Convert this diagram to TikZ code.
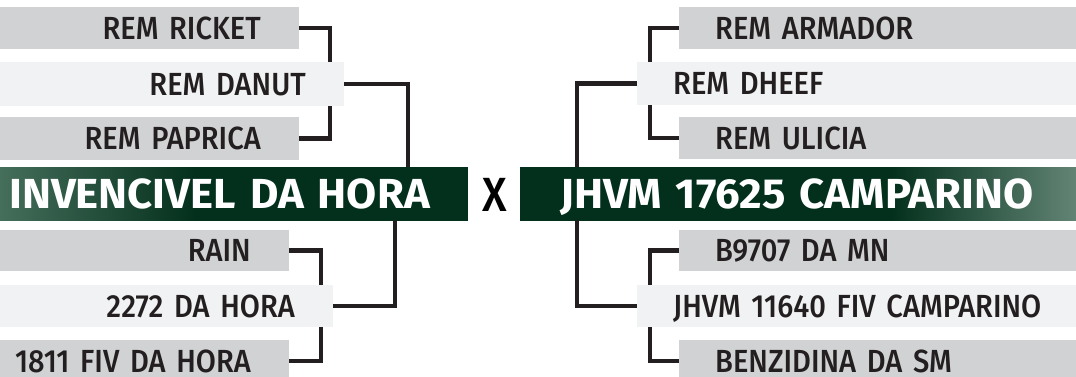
\documentclass[tikz,border=0pt]{standalone}
\usepackage{fontspec}
\usepackage{tikz}
\newfontfamily\lblfont{Fira Sans Medium}[FakeStretch=0.91, WordSpace=0.6]
\newfontfamily\ttlfont{Fira Sans Bold}[FakeStretch=1.04, WordSpace=0.6]
\definecolor{barg}{HTML}{D1D2D4}
\definecolor{barl}{HTML}{F1F2F3}
\definecolor{inkc}{HTML}{231F20}
\definecolor{gdark}{HTML}{03301C}
\definecolor{glightl}{HTML}{527A67}
\definecolor{glightr}{HTML}{6F8F81}
\pgfdeclarehorizontalshading{sireshade}{100bp}{color(0bp)=(glightl); color(25bp)=(glightl); color(48bp)=(gdark); color(100bp)=(gdark)}
\pgfdeclarehorizontalshading{damshade}{100bp}{color(0bp)=(gdark); color(57bp)=(gdark); color(75bp)=(glightr); color(100bp)=(glightr)}
\tikzset{
  lbar/.style={rectangle, inner ysep=0pt, minimum height=42pt, text height=22pt, text depth=0pt,
    font=\lblfont\fontsize{32}{32}\selectfont, text=inkc},
  lbox/.style={lbar, anchor=east, inner xsep=38pt, text width=330pt, align=right},
  rbox/.style={lbar, anchor=west, inner xsep=36pt, text width=450pt, align=left},
  ttl/.style={rectangle, inner ysep=0pt, minimum height=53pt, text height=29pt, text depth=0pt,
    font=\ttlfont\fontsize{42}{42}\selectfont, text=white},
  link/.style={draw=inkc, line width=4.5pt}
}
\begin{document}
\begin{tikzpicture}[x=1pt,y=-1pt]
  \useasboundingbox (0,0) rectangle (1076,376);
  \clip (0,0) rectangle (1076,376);

  \node[lbox, fill=barg] (ricket) at (299,28) {REM RICKET};
  \node[lbox, fill=barl, minimum height=44pt] (danut) at (344,84) {REM DANUT};
  \node[lbox, fill=barg, minimum height=43pt] (paprica) at (299,138.5) {REM PAPRICA};
  \node[ttl, anchor=east, inner xsep=38pt, text width=430pt, align=right, shading=sireshade] (sire) at (468,193.5) {INVENCIVEL DA HORA};
  \node[lbox, fill=barg, minimum height=41pt] (rain) at (289,250.5) {RAIN};
  \node[lbox, fill=barl] (hora) at (333,306) {2272 DA HORA};
  \node[lbox, fill=barg] (fiv) at (289,361) {1811 FIV DA HORA};

  \node[font=\lblfont\fontsize{48}{48}\selectfont, text=black, inner sep=0pt] (vs) at (495,195) {X};

  \node[rbox, fill=barg] (armador) at (679,28) {REM ARMADOR};
  \node[rbox, fill=barl, minimum height=43pt] (dheef) at (637,83.5) {REM DHEEF};
  \node[rbox, fill=barg] (ulicia) at (679,138) {REM ULICIA};
  \node[ttl, anchor=west, inner xsep=40pt, text width=500pt, align=left, shading=damshade] (dam) at (520,193.5) {JHVM 17625 CAMPARINO};
  \node[rbox, fill=barg, minimum height=41pt] (mn) at (679,250.5) {B9707 DA MN};
  \node[rbox, fill=barl] (camp) at (637,306) {JHVM 11640 FIV CAMPARINO};
  \node[rbox, fill=barg] (benz) at (679,361) {BENZIDINA DA SM};

  \coordinate (j1) at ([xshift=31pt]ricket.east);
  \coordinate (j2) at ([xshift=64pt]danut.east);
  \coordinate (j3) at ([xshift=32pt]rain.east);
  \coordinate (j4) at ([xshift=62pt]hora.east);
  \coordinate (k1) at ([xshift=-29pt]armador.west);
  \coordinate (k2) at ([xshift=-60pt]dheef.west);
  \coordinate (k3) at ([xshift=-29pt]mn.west);

  \draw[link] (ricket.east) -| (j1 |- danut.north);
  \draw[link] (danut.south -| j1) |- (paprica.east);
  \draw[link] (danut.east) -| (j2 |- sire.north);
  \draw[link] (rain.east) -| (j3 |- hora.north);
  \draw[link] (hora.south -| j3) |- (fiv.east);
  \draw[link] (sire.south -| j4) |- (hora.east);

  \draw[link] (armador.west) -| (k1 |- dheef.north);
  \draw[link] (dheef.south -| k1) |- (ulicia.west);
  \draw[link] (dheef.west) -| (k2 |- dam.north);
  \draw[link] (mn.west) -| (k3 |- camp.north);
  \draw[link] (camp.south -| k3) |- (benz.west);
  \draw[link] (dam.south -| k2) |- (camp.west);
\end{tikzpicture}
\end{document}
